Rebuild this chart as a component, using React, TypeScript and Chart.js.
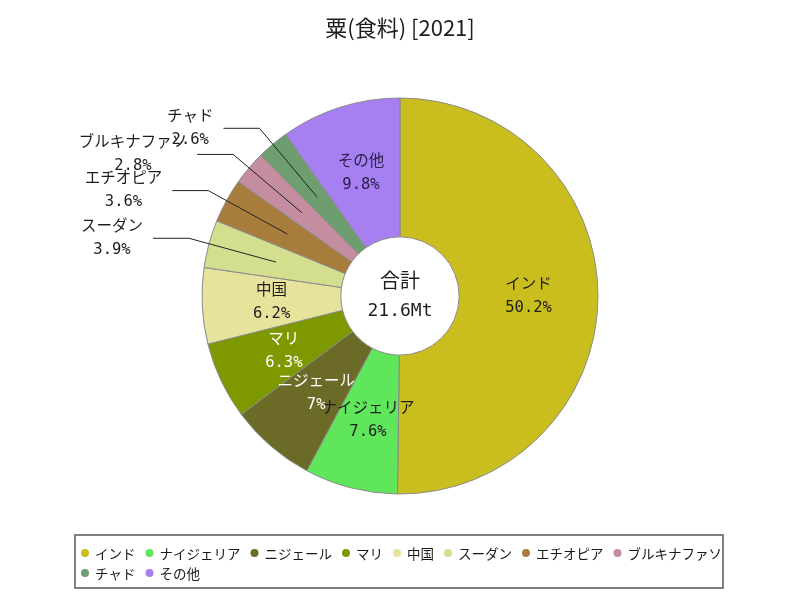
import React, { useEffect, useRef } from "react";
import { Chart, registerables } from "chart.js";

Chart.register(...registerables);

const TITLE = "粟(食料) [2021]";
const CENTER_LABEL = "合計";
const CENTER_VALUE = "21.6Mt";

const categories = [
  "インド",
  "ナイジェリア",
  "ニジェール",
  "マリ",
  "中国",
  "スーダン",
  "エチオピア",
  "ブルキナファソ",
  "チャド",
  "その他",
];
const shares = [50.2, 7.6, 7, 6.3, 6.2, 3.9, 3.6, 2.8, 2.6, 9.8];
const colors = [
  "#c9be1d",
  "#5fe65b",
  "#6b6a26",
  "#7e9900",
  "#e7e29c",
  "#d3df8e",
  "#a87d3b",
  "#c58ea0",
  "#6e9e70",
  "#a67ff0",
];
const textColors = [
  "#1e1e1e",
  "#1e1e1e",
  "#ffffff",
  "#ffffff",
  "#1e1e1e",
  "#1e1e1e",
  "#1e1e1e",
  "#1e1e1e",
  "#1e1e1e",
  "#2a2050",
];

const LABEL_FONT = '15.5px "DejaVu Sans Mono", "Noto Sans CJK JP", sans-serif';
const CJK_FONT = '"Noto Sans CJK JP", sans-serif';

const fmtPct = (v: number, total: number) =>
  parseFloat(((v / total) * 100).toFixed(1)).toString() + "%";

const labelPlugin = {
  id: "customLabels",
  afterDatasetsDraw(chart: any) {
    const ctx = chart.ctx as CanvasRenderingContext2D;
    const meta = chart.getDatasetMeta(0);
    const data = chart.data.datasets[0].data as number[];
    const total = data.reduce((a, b) => a + b, 0);
    ctx.save();
    ctx.font = LABEL_FONT;
    ctx.textBaseline = "middle";
    meta.data.forEach((arc: any, i: number) => {
      const p = arc.getProps(
        ["x", "y", "startAngle", "endAngle", "innerRadius", "outerRadius"],
        true
      );
      const mid = (p.startAngle + p.endAngle) / 2;
      const cos = Math.cos(mid);
      const sin = Math.sin(mid);
      const rMid = (p.innerRadius + p.outerRadius) / 2;
      const ax = p.x + cos * rMid;
      const ay = p.y + sin * rMid;
      const name = chart.data.labels[i] as string;
      const pct = fmtPct(data[i], total);
      const share = (data[i] / total) * 100;
      if (share >= 5) {
        ctx.fillStyle = textColors[i];
        ctx.textAlign = "center";
        ctx.fillText(name, ax, ay - 11.5);
        ctx.fillText(pct, ax, ay + 11.5);
      } else {
        const rE = p.outerRadius * 1.105;
        const ex = p.x + cos * rE;
        const ey = p.y + sin * rE;
        const dir = cos < 0 ? -1 : 1;
        const lx = ex + dir * 36;
        ctx.strokeStyle = "#222222";
        ctx.lineWidth = 1;
        ctx.beginPath();
        ctx.moveTo(ax, ay);
        ctx.lineTo(ex, ey);
        ctx.lineTo(lx, ey);
        ctx.stroke();
        const w = Math.max(ctx.measureText(name).width, ctx.measureText(pct).width);
        let cx = lx + dir * (w / 2 + 10);
        if (dir < 0 && cx - w / 2 < 75) cx = 75 + w / 2;
        ctx.fillStyle = "#1e1e1e";
        ctx.textAlign = "center";
        ctx.fillText(name, cx, ey - 11.5);
        ctx.fillText(pct, cx, ey + 11.5);
      }
    });
    // center text
    const a0 = meta.data[0];
    ctx.fillStyle = "#1e1e1e";
    ctx.textAlign = "center";
    ctx.font = '20px ' + CJK_FONT;
    ctx.fillText(CENTER_LABEL, a0.x, a0.y - 16);
    ctx.font = '18px "DejaVu Sans Mono", sans-serif';
    ctx.fillText(CENTER_VALUE, a0.x, a0.y + 15);
    ctx.restore();
  },
  afterDraw(chart: any) {
    const ctx = chart.ctx as CanvasRenderingContext2D;
    ctx.save();
    // title
    ctx.fillStyle = "#1e1e1e";
    ctx.textAlign = "center";
    ctx.textBaseline = "middle";
    ctx.font = '22px ' + CJK_FONT;
    ctx.fillText(TITLE, chart.width / 2, 28);
    // legend box
    ctx.strokeStyle = "#808080";
    ctx.lineWidth = 2;
    ctx.strokeRect(75, 535, 648, 53);
    ctx.font = '13.5px ' + CJK_FONT;
    ctx.textAlign = "left";
    const bg = chart.data.datasets[0].backgroundColor as string[];
    let x = 81;
    let y = 553;
    (chart.data.labels as string[]).forEach((lab, i) => {
      const tw = ctx.measureText(lab).width;
      const itemW = 14 + tw;
      if (x + itemW > 726) {
        x = 81;
        y += 20;
      }
      ctx.fillStyle = bg[i];
      ctx.beginPath();
      ctx.arc(x + 4, y, 4, 0, Math.PI * 2);
      ctx.fill();
      ctx.fillStyle = "#1a1a1a";
      ctx.fillText(lab, x + 14, y + 0.5);
      x += itemW + 10;
    });
    ctx.restore();
  },
};

export default function App() {
  const ref = useRef<HTMLCanvasElement | null>(null);
  useEffect(() => {
    if (!ref.current) return;
    const chart = new Chart(ref.current, {
      type: "doughnut",
      data: {
        labels: categories,
        datasets: [
          {
            data: shares,
            backgroundColor: colors,
            borderColor: "#8a8a8a",
            borderWidth: 1,
          },
        ],
      },
      options: {
        animation: false,
        responsive: false,
        radius: 198,
        cutout: 59,
        layout: { padding: { top: 98, bottom: 106, left: 0, right: 0 } },
        plugins: {
          legend: { display: false },
          title: { display: false },
          tooltip: { enabled: false },
        },
      } as any,
      plugins: [labelPlugin],
    });
    return () => chart.destroy();
  }, []);
  return (
    <canvas
      ref={ref}
      width={800}
      height={600}
      style={{ position: "fixed", left: 0, top: 0, width: 800, height: 600, background: "#fff" }}
    />
  );
}
